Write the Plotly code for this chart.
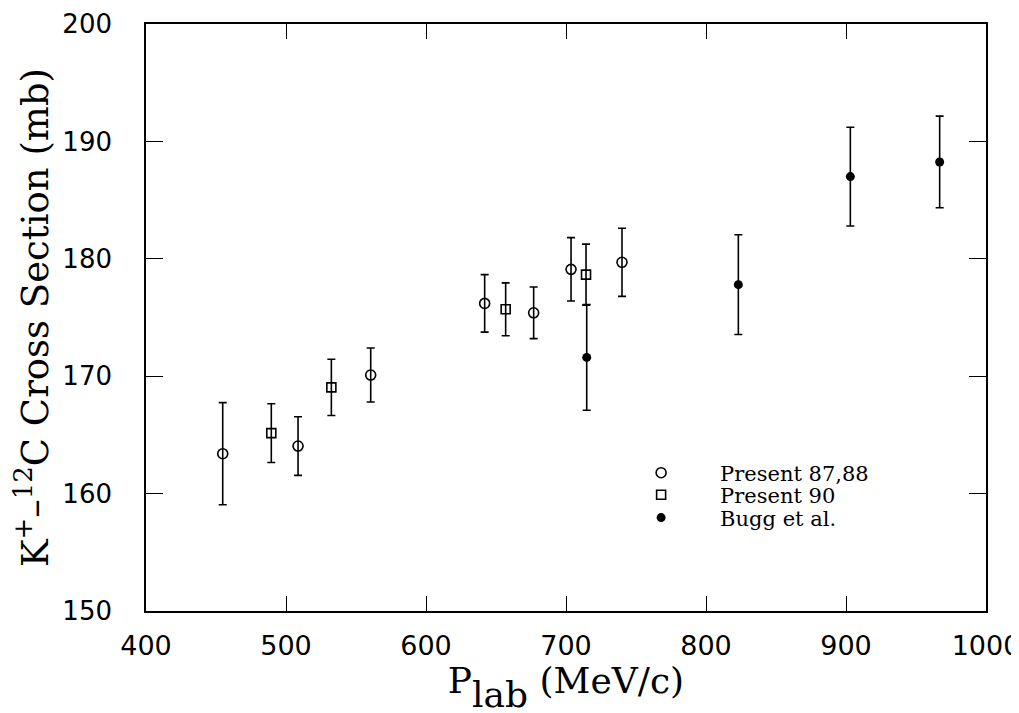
import plotly.graph_objects as go

# K+ - 12C total cross section vs beam momentum
p_87 = [454.8, 508.6, 560.5, 641.9, 676.9, 703.6, 740.0]
sig_87 = [163.4, 164.05, 170.1, 176.2, 175.4, 179.1, 179.7]
err_87 = [4.35, 2.5, 2.3, 2.45, 2.2, 2.7, 2.9]

p_90 = [489.5, 532.4, 656.9, 714.3]
sig_90 = [165.15, 169.05, 175.7, 178.65]
err_90 = [2.5, 2.4, 2.25, 2.6]

p_bugg = [714.8, 823.1, 903.1, 966.9]
sig_bugg = [171.6, 177.8, 187.0, 188.25]
err_bugg = [4.5, 4.25, 4.2, 3.9]

x_ticks = [400, 500, 600, 700, 800, 900, 1000]
y_ticks = [150, 160, 170, 180, 190, 200]

serif = "DejaVu Serif, Liberation Serif, serif"
sans = "DejaVu Sans, sans-serif"


def err_style(vals):
    return dict(type="data", array=vals, visible=True, color="black",
                thickness=1.6, width=4)


fig = go.Figure()

fig.add_trace(go.Scatter(
    x=p_87, y=sig_87, mode="markers", name="Present 87,88", legend="legend",
    error_y=err_style(err_87),
    marker=dict(symbol="circle-open", size=10, color="black",
                line=dict(width=1.6, color="black")),
))
fig.add_trace(go.Scatter(
    x=p_90, y=sig_90, mode="markers", name="Present 90", legend="legend2",
    error_y=err_style(err_90),
    marker=dict(symbol="square-open", size=9, color="black",
                line=dict(width=1.6, color="black")),
))
fig.add_trace(go.Scatter(
    x=p_bugg, y=sig_bugg, mode="markers", name="Bugg et al.", legend="legend3",
    error_y=err_style(err_bugg),
    marker=dict(symbol="circle", size=9, color="black"),
))

axis_common = dict(
    showline=True, linecolor="black", linewidth=1.6, mirror="ticks",
    ticks="inside", tickcolor="black", tickwidth=1.4,
    showgrid=False, zeroline=False, automargin=False,
    ticklabeloverflow="allow",
)

fig.update_xaxes(
    range=[400, 1000], tickvals=x_ticks, ticklen=15,
    tickfont=dict(family=sans, size=27, color="black"),
    ticklabelstandoff=10,
    title=dict(text="P<span style='baseline-shift:-0.4em'>lab</span> (MeV/c)",
               font=dict(family=serif, size=36, color="black"), standoff=0),
    **axis_common,
)
fig.update_yaxes(
    range=[150, 200], tickvals=y_ticks, ticklen=17,
    tickfont=dict(family=sans, size=26, color="black"),
    ticklabelstandoff=27,
    title=dict(text="K<sup>+</sup>\u2013<sup>12</sup>C Cross Section (mb)",
               font=dict(family=serif, size=37, color="black"), standoff=4),
    **axis_common,
)


def legend_row(ypos):
    return dict(
        x=0.543, y=ypos, xanchor="left", yanchor="middle",
        font=dict(family=serif, size=21, color="black"),
        bgcolor="rgba(0,0,0,0)", itemwidth=108,
    )


# the page shifts the figure by a few pixels, so the canvas is trimmed to match
fig.update_layout(
    width=1013, height=707,
    margin=dict(l=138, r=35, t=16, b=104),
    paper_bgcolor="white", plot_bgcolor="white",
    showlegend=True,
    legend=legend_row(0.235),
    legend2=legend_row(0.1975),
    legend3=legend_row(0.1585),
)

fig.write_html("out.html")
